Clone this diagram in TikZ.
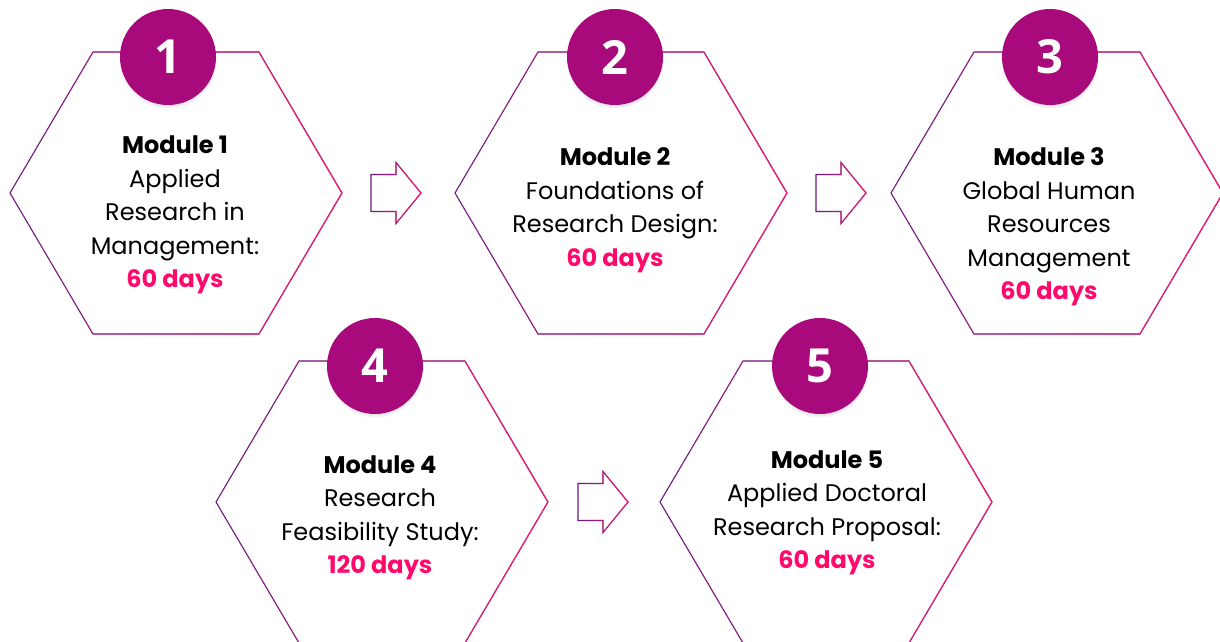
\documentclass[tikz,border=0pt]{standalone}
\usepackage{fontspec}
\setmainfont{Poppins}
\newfontfamily\numfont{Open Sans}
\usetikzlibrary{shadows, fadings, positioning, calc}

\definecolor{hexpurple}{HTML}{6A1B7E}
\definecolor{hexpink}{HTML}{FF1A70}
\definecolor{badge}{HTML}{A80A7B}
\definecolor{dayspink}{HTML}{FF0A6C}

\tikzfading[name=fadeleft, left color=transparent!100, right color=transparent!0]

\tikzset{
  hexline/.style={line width=1.1pt, line join=miter},
  badgecirc/.style={circle, fill=badge, minimum size=96pt, inner sep=0pt, text=white,
    font=\numfont\bfseries\fontsize{47}{47}\selectfont,
    circular drop shadow={shadow xshift=0pt, shadow yshift=-3pt, shadow scale=1.02, opacity=0.35}},
  modtext/.style={align=center, inner sep=0pt, font=\fontsize{24}{33.5}\selectfont},
}

% hexagon outline, purple on the left going pink on the right
\newcommand{\hexagon}[2]{%
  \draw[hexline, hexpurple] (#1-166,#2) -- (#1-83,#2-141) -- (#1+83,#2-141)
    -- (#1+166,#2) -- (#1+83,#2+141) -- (#1-83,#2+141) -- cycle;
  \draw[hexline, hexpink, path fading=fadeleft] (#1-166,#2) -- (#1-83,#2-141) -- (#1+83,#2-141)
    -- (#1+166,#2) -- (#1+83,#2+141) -- (#1-83,#2+141) -- cycle;
}
% outlined block arrow, tail at x
\newcommand{\blockarrow}[2]{%
  \draw[hexline, hexpurple] (#1,#2-18.5) -- (#1+25,#2-18.5) -- (#1+25,#2-30.5)
    -- (#1+50,#2) -- (#1+25,#2+30.5) -- (#1+25,#2+18.5) -- (#1,#2+18.5) -- cycle;
  \draw[hexline, hexpink, path fading=fadeleft] (#1,#2-18.5) -- (#1+25,#2-18.5) -- (#1+25,#2-30.5)
    -- (#1+50,#2) -- (#1+25,#2+30.5) -- (#1+25,#2+18.5) -- (#1,#2+18.5) -- cycle;
}

\begin{document}
\begin{tikzpicture}[x=1pt, y=-1pt]
  \useasboundingbox[fill=white] (0,0) rectangle (1220,642);

  % hexagons
  \foreach \hx/\hy in {176/193, 621/193, 1057/193, 382/502, 826/502} {
    \hexagon{\hx}{\hy}
  }

  % arrows between modules
  \blockarrow{371}{193}
  \blockarrow{816}{193}
  \blockarrow{578}{502}

  % numbered badges
  \foreach \n/\bx/\by in {1/168/57, 2/615/57, 3/1050/57, 4/375/366, 5/820/366} {
    \node[badgecirc] (b\n) at (\bx,\by) {\n};
  }

  % module texts
  \node[modtext] (mod1) at (175,215) {\textbf{Module 1}\\Applied\\Research in\\Management:\\\textcolor{dayspink}{\textbf{60 days}}};
  \node[modtext] (mod2) at (615,210) {\textbf{Module 2}\\Foundations of\\Research Design:\\\textcolor{dayspink}{\textbf{60 days}}};
  \node[modtext] (mod3) at (1049,227) {\textbf{Module 3}\\Global Human\\Resources\\Management\\\textcolor{dayspink}{\textbf{60 days}}};
  \node[modtext] (mod4) at (380,518) {\textbf{Module 4}\\Research\\Feasibility Study:\\\textcolor{dayspink}{\textbf{120 days}}};
  \node[modtext] (mod5) at (827,513) {\textbf{Module 5}\\Applied Doctoral\\Research Proposal:\\\textcolor{dayspink}{\textbf{60 days}}};
\end{tikzpicture}
\end{document}
